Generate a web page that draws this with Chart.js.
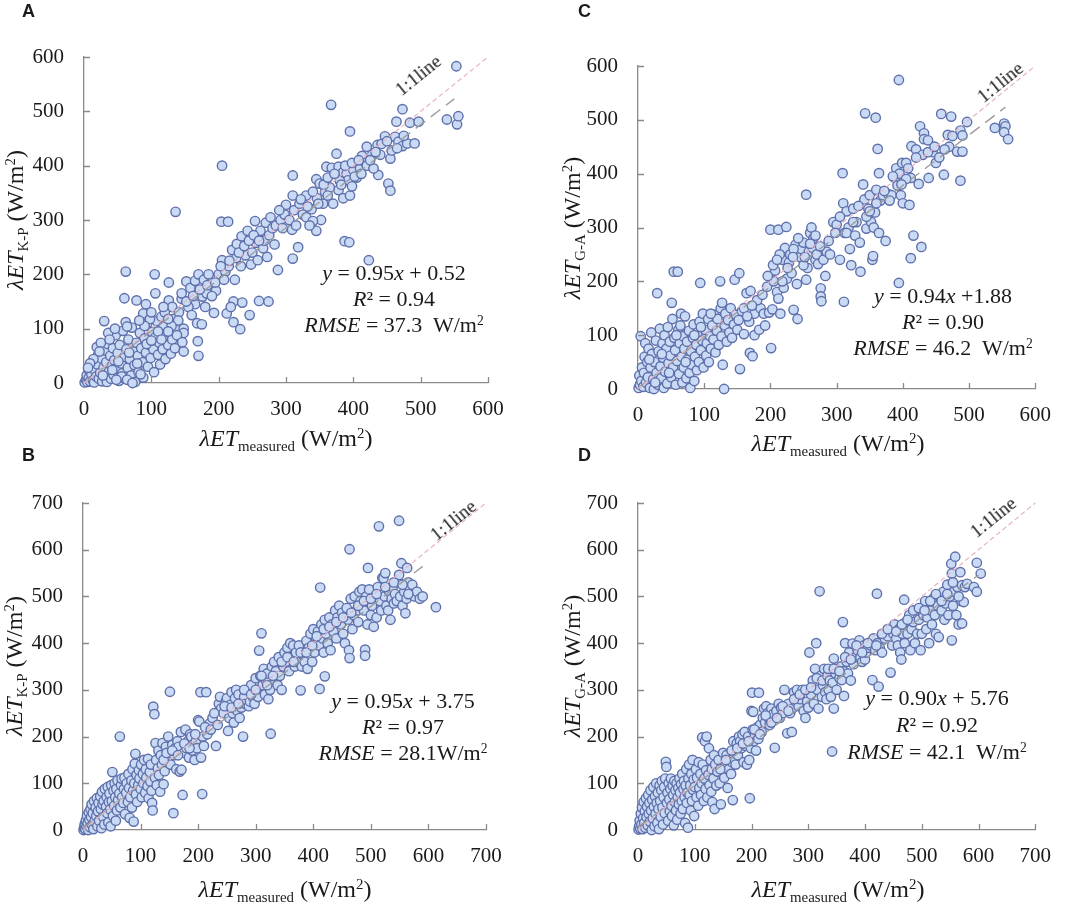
<!DOCTYPE html>
<html>
<head>
<meta charset="utf-8">
<title>λET scatter comparison</title>
<script src="https://cdn.jsdelivr.net/npm/chart.js@4.4.1/dist/chart.umd.min.js"></script>
<style>
  html, body { margin: 0; padding: 0; background: #fff; }
  #figure { position: relative; width: 1065px; height: 909px; overflow: hidden;
            font-family: 'Liberation Serif', 'Times New Roman', serif; color: #1a1a1a; }
  .panel { position: absolute; }
  .panel canvas { display: block; }
  .txt { position: absolute; white-space: nowrap; line-height: 1; transform: translate(-50%, -50%); }
  .rot { transform: translate(-50%, -50%) rotate(-90deg); }
  .diag { transform: translate(-50%, -50%) rotate(-39deg); }
  .eq { font-size: 22px; }
  .axis-title { font-size: 24px; }
  .one-line { font-size: 19px; }
  .letter { position: absolute; font-family: 'Liberation Sans', Arial, sans-serif;
            font-weight: bold; font-size: 18px; line-height: 18px; }
  sub { font-size: 0.62em; vertical-align: -0.32em; line-height: 0; }
  sup { font-size: 0.62em; vertical-align: 0.55em; line-height: 0; }
</style>
</head>
<body>
<div id="figure">
  <div class="panel" style="left:0;top:0"><canvas id="chartA" width="530" height="450"></canvas></div>
  <div class="panel" style="left:530px;top:0"><canvas id="chartC" width="535" height="450"></canvas></div>
  <div class="panel" style="left:0;top:450px"><canvas id="chartB" width="530" height="459"></canvas></div>
  <div class="panel" style="left:530px;top:450px"><canvas id="chartD" width="535" height="459"></canvas></div>

  <!-- panel letters -->
  <div class="letter" style="left:22px;top:2px">A</div>
  <div class="letter" style="left:578px;top:2px">C</div>
  <div class="letter" style="left:22px;top:446px">B</div>
  <div class="letter" style="left:578px;top:446px">D</div>

  <!-- y axis titles -->
  <div class="txt rot axis-title" style="left:15px;top:220px"><i>λET</i><sub>K-P</sub> (W/m<sup>2</sup>)</div>
  <div class="txt rot axis-title" style="left:572px;top:228px"><i>λET</i><sub>G-A</sub> (W/m<sup>2</sup>)</div>
  <div class="txt rot axis-title" style="left:14px;top:666px"><i>λET</i><sub>K-P</sub> (W/m<sup>2</sup>)</div>
  <div class="txt rot axis-title" style="left:572px;top:666px"><i>λET</i><sub>G-A</sub> (W/m<sup>2</sup>)</div>

  <!-- x axis titles -->
  <div class="txt axis-title" style="left:286px;top:438px"><i>λET</i><sub>measured</sub> (W/m<sup>2</sup>)</div>
  <div class="txt axis-title" style="left:838px;top:443px"><i>λET</i><sub>measured</sub> (W/m<sup>2</sup>)</div>
  <div class="txt axis-title" style="left:285px;top:889px"><i>λET</i><sub>measured</sub> (W/m<sup>2</sup>)</div>
  <div class="txt axis-title" style="left:838px;top:889px"><i>λET</i><sub>measured</sub> (W/m<sup>2</sup>)</div>

  <!-- 1:1 line labels -->
  <div class="txt diag one-line" style="left:418px;top:75px">1:1line</div>
  <div class="txt diag one-line" style="left:1000px;top:82px">1:1line</div>
  <div class="txt diag one-line" style="left:453px;top:520px">1:1line</div>
  <div class="txt diag one-line" style="left:993px;top:517px">1:1line</div>

  <!-- regression statistics -->
  <div class="txt eq" style="left:394px;top:273px"><i>y</i> = 0.95<i>x</i> + 0.52</div>
  <div class="txt eq" style="left:394px;top:299px"><i>R</i>² = 0.94</div>
  <div class="txt eq" style="left:394px;top:325px"><i>RMSE</i> = 37.3&nbsp; W/m<sup>2</sup></div>

  <div class="txt eq" style="left:943px;top:296px"><i>y</i> = 0.94<i>x</i> +1.88</div>
  <div class="txt eq" style="left:943px;top:322px"><i>R</i>² = 0.90</div>
  <div class="txt eq" style="left:943px;top:348px"><i>RMSE</i> = 46.2&nbsp; W/m<sup>2</sup></div>

  <div class="txt eq" style="left:403px;top:701px"><i>y</i> = 0.95<i>x</i> + 3.75</div>
  <div class="txt eq" style="left:403px;top:727px"><i>R</i>² = 0.97</div>
  <div class="txt eq" style="left:403px;top:753px"><i>RMSE</i> = 28.1W/m<sup>2</sup></div>

  <div class="txt eq" style="left:937px;top:698px"><i>y</i> = 0.90<i>x</i> + 5.76</div>
  <div class="txt eq" style="left:937px;top:725px"><i>R</i>² = 0.92</div>
  <div class="txt eq" style="left:937px;top:752px"><i>RMSE</i> = 42.1&nbsp; W/m<sup>2</sup></div>
</div>

<script>
// tick values for the two axis ranges
const ticks600 = [0, 100, 200, 300, 400, 500, 600];
const ticks700 = [0, 100, 200, 300, 400, 500, 600, 700];

// fitted lines as printed on each panel (A, C, B, D) and where the dashes stop
const slopes = [0.95, 0.94, 0.95, 0.90];
const intercepts = [0.52, 1.88, 3.75, 5.76];
const fitEndX = [550, 555, 590, 600];

// A: measured vs K-P
const pointsA = [
  [1,1],[3,6],[5,2],[4,14],[7,9],[9,3],[8,22],[11,16],[13,5],[12,30],[15,1],[16,24],[18,12],[17,40],[20,34],
  [22,8],[21,52],[24,19],[26,45],[27,3],[29,28],[31,60],[30,12],[33,38],[35,72],[34,2],[37,21],[39,50],[41,31],
  [40,8],[43,64],[45,42],[44,15],[47,88],[49,26],[50,55],[52,4],[53,70],[55,36],[57,18],[58,96],[60,48],[61,8],
  [63,62],[65,28],[66,80],[68,44],[70,14],[71,102],[73,58],[75,33],[76,2],[78,74],[80,50],[81,20],[83,92],[85,64],
  [87,38],[88,10],[90,82],[92,56],[94,110],[95,30],[97,70],[99,46],[101,94],[103,62],[104,20],[106,84],[108,114],
  [110,52],[112,74],[113,34],[115,98],[117,62],[119,86],[121,44],[123,108],[125,70],[127,92],[129,54],[131,80],
  [133,118],[135,64],[137,98],[14,44],[9,36],[19,66],[25,74],[6,28],[36,92],[46,100],[56,12],[64,6],[72,0],
  [84,16],[62,112],[48,6],[23,58],[38,80],[51,40],[67,56],[79,36],[93,72],[42,24],[28,14],[100,78],[118,104],
  [126,185],[62,205],[105,200],[106,165],[60,156],[78,152],[92,145],[88,128],[98,118],[115,122],[30,114],[64,104],
  [126,152],[131,140],[141,130],[140,115],[148,100],[148,92],[138,88],[169,77],[170,50],[148,58],[146,75],[136,315],
  [152,187],[158,175],[165,188],[170,200],[178,190],[186,175],[176,159],[165,145],[155,140],[160,125],[168,110],
  [175,108],[145,155],[120,130],[110,95],[193,129],[191,190],[200,200],[196,170],[182,165],[205,226],[224,190],
  [212,128],[222,112],[232,99],[222,150],[235,148],[218,140],[246,125],[260,151],[274,150],[204,297],[214,297],
  [205,400],[220,245],[226,230],[233,215],[227,256],[234,270],[243,280],[254,298],[255,258],[262,280],[266,248],
  [268,262],[270,295],[272,232],[275,272],[277,305],[280,285],[283,255],[288,208],[240,235],[248,218],[210,205],
  [215,215],[190,160],[180,140],[250,240],[258,226],[130,105],[125,95],[118,140],[185,200],
  [145,165],[152,150],[162,160],[172,172],[183,180],[195,185],[203,215],[208,190],[216,225],[230,240],[238,252],
  [245,262],[252,272],[260,262],[285,290],[292,300],[298,310],[100,130],[90,105],[82,115],[115,80],[125,118],
  [309,282],[310,229],[318,250],[300,328],[290,318],[305,300],[315,290],[312,318],[320,330],[325,310],[330,305],
  [338,320],[310,345],[310,382],[346,340],[345,375],[350,367],[352,300],[340,298],[345,280],[358,352],[360,398],
  [368,396],[367,512],[370,330],[375,422],[378,355],[378,398],[385,340],[385,388],[387,261],[390,385],[392,373],
  [394,259],[395,345],[395,463],[398,362],[400,392],[405,378],[410,395],[413,418],[418,405],[420,400],[420,435],
  [423,226],[428,420],[436,438],[437,383],[447,454],[452,367],[455,354],[455,413],[457,428],[462,453],[464,481],
  [467,444],[473,436],[473,504],[480,441],[484,479],[491,441],[497,481],[539,485],[553,583],[554,476],[556,491],
  [330,345],[365,360],[355,330],[380,372],[402,380],[440,420],[430,395],[295,285],[335,290],[362,345],
  [322,338],[332,325],[340,352],[348,330],[356,365],[362,378],[372,385],[382,365],[388,400],[398,405],[408,410],
  [412,385],[425,410],[433,425],[442,440],[450,445],[465,432],[475,455]
];

// C: measured vs G-A
const pointsC = [
  [1,2],[3,8],[2,25],[5,15],[4,98],[6,40],[8,4],[9,30],[10,60],[11,85],[12,12],[14,50],[15,22],[16,75],[18,2],
  [19,40],[20,105],[21,65],[23,18],[24,0],[25,50],[27,90],[28,30],[29,178],[30,8],[31,70],[33,112],[34,42],[35,20],
  [37,85],[38,58],[39,2],[40,100],[41,32],[43,75],[44,10],[45,115],[46,48],[48,88],[49,62],[50,22],[51,160],
  [52,130],[53,40],[54,218],[55,95],[56,72],[57,8],[59,52],[60,218],[61,110],[62,28],[63,85],[65,140],[66,60],
  [67,12],[68,98],[69,40],[70,75],[71,135],[73,20],[74,88],[75,55],[77,108],[78,30],[79,2],[80,70],[81,45],[83,95],
  [84,120],[85,15],[86,60],[88,82],[89,35],[90,105],[92,50],[93,125],[94,197],[95,72],[97,90],[98,140],[99,40],
  [101,110],[103,62],[104,85],[106,130],[107,50],[109,98],[110,75],[112,118],[114,92],[115,138],[117,68],[119,108],
  [120,130],[122,82],[124,200],[125,150],[126,98],[127,160],[128,45],[130,0],[131,118],[132,140],[134,88],[136,128],
  [138,105],[140,150],[142,95],[145,120],[146,203],[148,138],[150,110],[152,128],[153,215],[154,37],[157,145],[160,102],
  [110,140],[95,115],[85,100],[58,100],[47,30],[36,65],[26,12],[17,55],[72,50],[64,118],
  [169,67],[173,61],[164,178],[170,182],[176,100],[183,110],[176,140],[168,125],[185,150],[190,140],[195,190],
  [198,142],[200,296],[201,76],[203,148],[205,200],[207,220],[210,180],[212,296],[212,168],[215,140],[218,240],
  [220,188],[222,262],[224,301],[225,205],[228,235],[230,250],[232,215],[235,147],[238,268],[240,195],[241,130],
  [245,245],[247,260],[250,272],[254,361],[254,203],[256,225],[258,255],[260,290],[262,300],[264,262],[268,240],
  [270,250],[272,232],[276,187],[276,172],[277,163],[280,240],[283,210],[285,255],[290,250],[295,310],[300,305],
  [305,240],[309,401],[310,345],[311,162],[312,290],[315,330],[318,300],[320,260],[322,230],[265,280],[250,230],
  [235,260],[180,165],[192,118],[214,250],
  [160,150],[165,135],[172,155],[188,175],[196,210],[204,230],[210,240],[218,200],[226,225],[234,245],[242,280],
  [252,245],[260,270],[268,285],[275,265],[288,275],[298,290],[305,320],[315,290],
  [325,335],[328,285],[330,310],[335,272],[336,218],[340,380],[342,352],[343,512],[345,298],[348,335],[350,360],
  [352,310],[354,240],[355,247],[356,300],[358,328],[359,504],[360,370],[362,446],[364,401],[364,290],[366,350],
  [370,360],[374,275],[378,362],[383,360],[388,392],[390,410],[392,378],[394,574],[394,197],[395,400],[397,360],
  [399,420],[400,345],[405,420],[410,342],[412,392],[412,243],[413,451],[416,285],[420,445],[424,381],[426,488],
  [428,264],[430,435],[432,475],[432,464],[438,462],[439,392],[445,440],[450,420],[455,430],[458,511],[462,398],
  [468,472],[470,450],[473,506],[482,441],[487,480],[487,387],[490,471],[490,441],[497,496],[539,485],[553,493],
  [555,488],[553,477],[559,464],[380,350],[345,320],[405,390],
  [325,310],[333,340],[350,330],[360,345],[372,368],[385,395],[398,380],[408,410],[420,430],[438,440],[448,450],
  [463,445],[475,470]
];

// B: measured vs K-P
const pointsB = [
  [1,0],[2,5],[3,12],[4,2],[5,20],[6,8],[7,30],[8,15],[9,0],[10,38],[11,22],[12,6],[13,45],[14,28],[15,55],[16,10],
  [17,36],[18,2],[19,62],[20,18],[22,48],[23,30],[24,68],[25,8],[26,40],[27,58],[28,20],[30,72],[31,45],[32,4],
  [33,82],[34,55],[35,28],[36,62],[37,12],[38,88],[40,50],[41,70],[42,36],[43,92],[44,16],[45,60],[46,78],[47,44],
  [48,8],[49,96],[50,62],[51,124],[52,30],[53,84],[54,52],[55,100],[56,70],[57,20],[58,88],[59,42],[60,106],[61,64],
  [63,78],[64,200],[65,48],[66,96],[67,110],[68,70],[70,58],[71,88],[72,112],[73,34],[75,80],[76,100],[78,60],
  [79,120],[80,90],[81,26],[82,70],[84,106],[85,48],[86,130],[87,84],[88,18],[89,100],[90,142],[91,163],[92,76],
  [93,118],[94,60],[96,96],[97,128],[98,110],[100,88],[101,140],[102,70],[104,120],[105,100],[106,150],[108,80],
  [109,130],[110,112],[112,94],[113,152],[114,68],[116,124],[117,104],[118,140],[119,84],[120,58],[121,42],[122,264],
  [124,248],[125,112],[126,186],[127,150],[128,96],[130,132],[131,170],[132,118],
  [134,82],[135,160],[137,140],[138,186],[140,98],[142,126],[144,178],[146,150],[148,200],[150,165],[151,296],
  [152,140],[155,182],[157,36],[158,160],[160,175],[162,130],[164,190],[166,178],[168,125],[170,210],[171,129],
  [173,75],[175,165],[178,215],[180,175],[182,190],[184,155],[186,205],[188,200],[190,170],[192,180],[194,150],
  [196,190],[198,175],[200,235],[202,232],[204,295],[205,155],[207,77],[208,200],[210,180],[214,295],[216,205],
  [220,228],[225,240],[231,180],[236,270],[238,285],[240,260],[244,250],[248,275],[250,282],[252,212],[254,240],
  [256,268],[258,295],[260,250],[262,230],[264,282],[266,300],[268,255],[270,290],[272,240],[275,262],[278,200],
  [280,285],[282,270],[285,300],[288,265],[290,275],[292,310],[295,285],[298,270],[300,325],[302,300],[304,285],
  [306,384],[308,330],[310,421],[312,310],[314,345],[316,290],[318,320],[320,335],[322,280],[325,300],[326,206],
  [328,350],
  [140,150],[145,165],[155,170],[165,160],[176,185],[185,175],[195,205],[212,220],[222,215],[228,250],[234,225],
  [246,265],[258,262],[270,270],[280,300],[292,290],[300,300],[310,330],[320,310],
  [332,360],[335,340],[338,310],[340,370],[342,330],[345,300],[348,350],[350,380],[352,360],[355,390],[358,340],
  [360,400],[362,370],[365,395],[368,350],[370,380],[372,360],[375,395],[378,299],[380,350],[382,375],[385,360],
  [388,405],[390,345],[392,390],[395,420],[398,360],[400,430],[402,380],[405,405],[408,425],[410,395],[411,302],
  [412,519],[414,440],[416,410],[418,380],[420,329],[420,450],[422,420],[425,400],[428,455],[430,385],[432,440],
  [435,425],[438,470],[440,410],[442,455],[445,480],[448,440],[450,465],[452,420],[455,400],[458,475],[460,450],
  [462,385],[463,368],[463,601],[465,495],[468,430],[470,460],[472,500],[475,470],[478,445],[480,510],[482,490],
  [485,515],[488,470],[490,386],[490,373],[492,500],[494,440],[495,561],[497,515],[500,460],[502,480],[505,435],
  [508,500],[510,455],[512,520],[514,650],[516,490],[518,470],[520,540],[522,539],[524,500],[525,550],[527,480],
  [530,470],[532,510],[534,450],[536,495],[538,520],[540,485],[542,505],[545,490],[548,530],[549,546],[549,662],
  [551,500],[553,571],[555,480],[558,510],[560,464],[562,495],[563,561],[565,530],[568,515],[572,525],[576,500],
  [580,510],[585,495],[590,500],[613,477],
  [330,330],[345,360],[355,370],[366,360],[378,380],[388,380],[398,395],[406,415],[418,430],[428,435],[440,445],
  [452,455],[466,465],[478,480],[488,490],[500,495],[510,505],[525,520],[540,530],[555,525],[565,505]
];

// D: measured vs G-A
const pointsD = [
  [1,1],[2,8],[3,20],[4,3],[5,35],[6,12],[7,48],[8,2],[9,25],[10,60],[11,15],[12,40],[13,5],[14,68],[15,28],[16,50],
  [17,10],[18,75],[19,35],[20,58],[21,18],[22,85],[23,42],[24,0],[25,65],[26,25],[27,92],[28,50],[29,8],[30,72],
  [31,35],[32,100],[33,58],[34,15],[35,80],[36,45],[37,2],[38,95],[39,62],[40,28],[41,85],[42,105],[43,48],[44,12],
  [45,70],[46,92],[47,36],[48,110],[49,146],[50,135],[51,58],[52,80],[53,20],[54,100],[55,66],[56,40],[57,88],
  [58,110],[59,52],[60,30],[61,95],[62,75],[63,10],[64,105],[65,60],[66,85],[67,42],[68,100],[69,22],[70,70],
  [71,90],[72,55],[73,110],[74,80],[75,35],[76,98],[77,62],[78,120],[79,45],[80,88],[81,105],[82,70],[83,15],
  [84,95],[85,130],[86,58],[87,80],[88,5],[89,110],[90,140],[91,75],[92,96],[93,42],[94,120],[95,62],[96,150],
  [97,86],[98,108],[99,30],[100,92],[102,130],[103,70],[104,112],[106,52],[107,145],[108,90],[110,120],[111,75],
  [112,100],[113,198],[114,140],[116,62],[117,110],[118,190],[119,88],[120,128],[121,200],[122,70],[124,118],
  [125,175],[126,96],[128,150],[129,82],[130,130],[131,60],[133,110],[134,160],[135,45],[136,140],[138,95],[140,125],
  [142,150],[144,100],[146,55],[148,135],[150,165],[152,112],[154,140],[156,160],[158,90],[160,130],[162,150],
  [164,120],[166,145],[167,64],[168,190],[170,170],[172,140],[174,185],[176,160],[178,200],[180,190],[182,175],
  [184,205],[186,145],[188,210],[190,180],[192,140],[194,200],[196,150],[197,68],[199,175],[200,255],[201,294],
  [202,215],[203,253],[204,190],[206,205],[208,170],[210,220],[212,195],[213,294],[215,225],[218,210],[220,240],
  [222,260],[224,230],[226,265],[228,250],[230,240],[232,225],[235,260],[238,248],[241,176],[244,255],[248,270],
  [250,240],[252,262],[255,250],[258,300],[260,265],[263,207],[265,270],[268,250],[271,210],[272,260],[275,295],
  [278,275],[280,300],[283,265],[286,280],[290,300],[292,255],[295,240],[298,275],[300,262],[302,380],[305,290],
  [308,320],[310,270],[312,345],[314,400],[316,300],[318,260],[320,511],[322,330],[324,285],[326,310],[328,345],
  [145,130],[155,150],[165,170],[175,175],[185,185],[195,190],[205,215],[215,205],[225,245],[235,230],[245,240],
  [255,265],[265,255],[275,280],[285,290],[295,300],[305,305],[315,325],[325,320],
  [330,295],[332,280],[334,330],[336,300],[338,320],[340,285],[342,168],[343,315],[345,367],[345,260],[348,335],
  [350,300],[352,345],[355,325],[358,350],[359,321],[361,445],[362,340],[363,287],[365,400],[368,360],[370,335],
  [372,380],[375,320],[378,399],[380,355],[383,370],[387,385],[390,406],[392,370],[395,360],[398,395],[400,365],
  [402,380],[405,390],[410,395],[413,321],[415,410],[418,385],[421,506],[422,400],[424,307],[426,390],[430,380],
  [435,410],[440,415],[445,337],[448,395],[450,420],[452,440],[455,410],[458,395],[460,430],[462,380],[464,365],
  [466,420],[468,440],[469,493],[470,400],[472,445],[475,420],[478,460],[480,385],[482,430],[485,445],[488,400],
  [490,470],[492,420],[495,450],[498,385],[500,420],[503,460],[506,490],[508,430],[510,455],[513,400],[516,470],
  [518,440],[520,495],[523,460],[525,420],[528,480],[530,413],[532,500],[535,470],[538,510],[540,450],[542,485],
  [545,525],[547,460],[549,500],[552,570],[553,549],[553,406],[555,480],[557,510],[559,585],[561,460],[563,520],
  [565,440],[568,552],[570,490],[571,524],[571,442],[574,488],[576,520],[580,527],[592,520],[597,572],[597,510],
  [604,549],
  [335,345],[345,345],[355,340],[365,370],[375,365],[385,395],[395,380],[405,400],[420,395],[430,420],[440,430],
  [455,425],[465,440],[475,450],[485,470],[495,475],[505,470],[515,490],[525,505],[535,490],[545,505],[555,530],
  [565,500]
];

// where each plot area sits inside its canvas
const panels = [
  { id: 'chartA', points: pointsA, ticks: ticks600, fit: 0, width: 530, height: 450, area: { left: 84, right: 488, top: 57, bottom: 383 } },
  { id: 'chartC', points: pointsC, ticks: ticks600, fit: 1, width: 535, height: 450, area: { left: 108, right: 508, top: 66, bottom: 389 } },
  { id: 'chartB', points: pointsB, ticks: ticks700, fit: 2, width: 530, height: 459, area: { left: 83, right: 486, top: 53, bottom: 380 } },
  { id: 'chartD', points: pointsD, ticks: ticks700, fit: 3, width: 535, height: 459, area: { left: 108, right: 509, top: 53, bottom: 380 } }
];

const AXIS_COLOR = '#8a8a8a';
const TICK_FONT = { family: 'Liberation Serif, serif', size: 21 };

// small tick marks pointing into the plot, like the original
const inwardTicks = {
    id: 'inwardTicks',
    afterDraw: function(chart) {
        const ctx = chart.ctx;
        const xs = chart.scales.x;
        const ys = chart.scales.y;
        ctx.save();
        ctx.strokeStyle = AXIS_COLOR;
        ctx.lineWidth = 1.3;
        ctx.beginPath();
        xs.ticks.forEach(function(t) {
            if (t.value === 0) return;
            const px = Math.round(xs.getPixelForValue(t.value)) + 0.5;
            ctx.moveTo(px, ys.bottom);
            ctx.lineTo(px, ys.bottom - 6);
        });
        ys.ticks.forEach(function(t) {
            if (t.value === 0) return;
            const py = Math.round(ys.getPixelForValue(t.value)) + 0.5;
            ctx.moveTo(xs.left, py);
            ctx.lineTo(xs.left + 6, py);
        });
        ctx.stroke();
        ctx.restore();
    }
};

document.addEventListener('DOMContentLoaded', function() {
    panels.forEach(createPanel);
});

function createPanel(cfg) {
    const canvas = document.getElementById(cfg.id);
    if (!canvas) {
        console.error('Canvas not found: ' + cfg.id);
        return;
    }
    const area = cfg.area;
    const max = cfg.ticks[cfg.ticks.length - 1];
    const m = slopes[cfg.fit];
    const b = intercepts[cfg.fit];
    const xe = fitEndX[cfg.fit];

    return new Chart(canvas.getContext('2d'), {
        type: 'scatter',
        data: {
            datasets: [
                {
                    // 1:1 line
                    type: 'line',
                    data: [{ x: 0, y: 0 }, { x: max, y: max }],
                    borderColor: '#e7b3c3',
                    borderWidth: 1.2,
                    borderDash: [5, 3],
                    pointRadius: 0,
                    clip: false,
                    order: 0
                },
                {
                    // fitted line
                    type: 'line',
                    data: [{ x: 0, y: b }, { x: xe, y: m * xe + b }],
                    borderColor: '#9d9d9d',
                    borderWidth: 1.4,
                    borderDash: [12, 7],
                    pointRadius: 0,
                    clip: false,
                    order: 0
                },
                {
                    data: cfg.points.map(function(p) { return { x: p[0], y: p[1] }; }),
                    backgroundColor: '#c9dbf4',
                    borderColor: '#5f6fab',
                    borderWidth: 1.4,
                    pointRadius: 4.7,
                    clip: false,
                    order: 1
                }
            ]
        },
        options: {
            responsive: false,
            animation: false,
            layout: {
                padding: { left: 0, top: area.top, right: cfg.width - area.right, bottom: 0 }
            },
            plugins: {
                legend: { display: false },
                tooltip: { enabled: false }
            },
            scales: {
                x: {
                    type: 'linear',
                    min: 0,
                    max: max,
                    afterBuildTicks: function(scale) {
                        scale.ticks = cfg.ticks.map(function(v) { return { value: v }; });
                    },
                    afterFit: function(scale) { scale.height = cfg.height - area.bottom; },
                    grid: { display: false, drawTicks: false },
                    border: { display: true, color: AXIS_COLOR, width: 1.3 },
                    ticks: { font: TICK_FONT, color: '#1a1a1a', padding: 14, maxRotation: 0, autoSkip: false }
                },
                y: {
                    type: 'linear',
                    min: 0,
                    max: max,
                    afterBuildTicks: function(scale) {
                        scale.ticks = cfg.ticks.map(function(v) { return { value: v }; });
                    },
                    afterFit: function(scale) { scale.width = area.left; },
                    grid: { display: false, drawTicks: false },
                    border: { display: true, color: AXIS_COLOR, width: 1.3 },
                    ticks: { font: TICK_FONT, color: '#1a1a1a', padding: 20, autoSkip: false }
                }
            }
        },
        plugins: [inwardTicks]
    });
}
</script>
</body>
</html>
